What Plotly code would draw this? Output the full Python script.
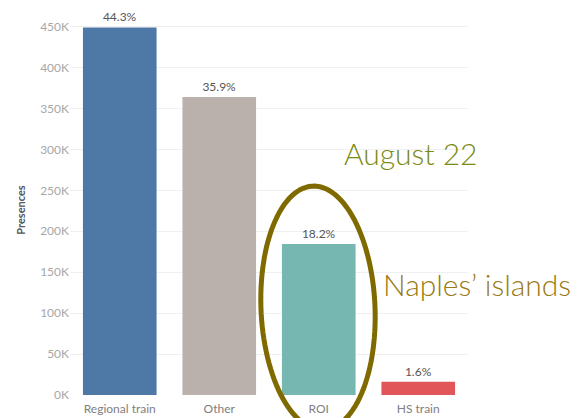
import numpy as np
import plotly.graph_objects as go

# Presences by transport mode
modes = ["Regional train", "Other", "ROI", "HS train"]
presences = [449000, 363900, 184500, 16200]
shares = ["44.3%", "35.9%", "18.2%", "1.6%"]
bar_colors = ["#4e79a7", "#bab0ac", "#76b7b2", "#e15759"]

tick_vals = [0, 50000, 100000, 150000, 200000, 250000, 300000, 350000, 400000, 450000]
tick_text = ["0K", "50K", "100K", "150K", "200K", "250K", "300K", "350K", "400K", "450K"]

W, H = 580, 418
L, R, T, B = 70, 112, 25, 23

fig = go.Figure(
    go.Bar(
        x=modes,
        y=presences,
        marker=dict(color=bar_colors, line=dict(width=0)),
        width=0.74,
        text=shares,
        textposition="outside",
        textfont=dict(family="Lato", size=12, color="#555555"),
        cliponaxis=False,
    )
)

# Hand-drawn style oval around the ROI bar, in pixel space -> paper space
def px_to_paper(X, Y):
    return (X - L) / (W - L - R), (H - B - Y) / (H - T - B)

t = np.linspace(0, 2 * np.pi, 120)
cx, cy, a, b, ang = 318, 308, 57, 122, np.deg2rad(-2.5)
ex = a * np.cos(t)
ey = b * np.sin(t)
Xs = cx + ex * np.cos(ang) - ey * np.sin(ang)
Ys = cy + ex * np.sin(ang) + ey * np.cos(ang)
pts = [px_to_paper(X, Y) for X, Y in zip(Xs, Ys)]
path = "M " + " L ".join(f"{x:.4f},{y:.4f}" for x, y in pts) + " Z"

fig.add_shape(type="path", path=path, xref="paper", yref="paper",
              line=dict(color="#7f6a00", width=5), layer="above")

fig.add_annotation(text="August 22", xref="paper", yref="paper",
                   x=px_to_paper(411, 0)[0], y=px_to_paper(0, 153)[1],
                   showarrow=False, xanchor="center", yanchor="middle",
                   font=dict(family="Lato", size=30, color="#7a8a12", weight=300))
fig.add_annotation(text="Naples\u2019 islands", xref="paper", yref="paper",
                   x=px_to_paper(477, 0)[0], y=px_to_paper(0, 284)[1],
                   showarrow=False, xanchor="center", yanchor="middle",
                   font=dict(family="Lato", size=30, color="#9a7a12", weight=300))

fig.update_layout(
    width=W, height=H,
    margin=dict(l=L, r=R, t=T, b=B, pad=0),
    paper_bgcolor="white", plot_bgcolor="white",
    showlegend=False,
    bargap=0.26,
    font=dict(family="Lato"),
)
fig.update_xaxes(
    showgrid=False, showline=False, ticks="",
    automargin=False,
    ticklabelstandoff=5,
    tickfont=dict(family="Lato", size=12, color="#808080"),
)
fig.update_yaxes(
    range=[0, 452000],
    automargin=False,
    tickvals=tick_vals, ticktext=tick_text,
    showgrid=True, gridcolor="#f0f0f0", gridwidth=1,
    zeroline=False, showline=False, ticks="",
    tickfont=dict(family="Lato", size=12, color="#a8a8a8"),
    title=dict(text="<b>Presences</b>", font=dict(family="Lato", size=11, color="#555555"), standoff=12),
)

fig.write_html("out.html")
